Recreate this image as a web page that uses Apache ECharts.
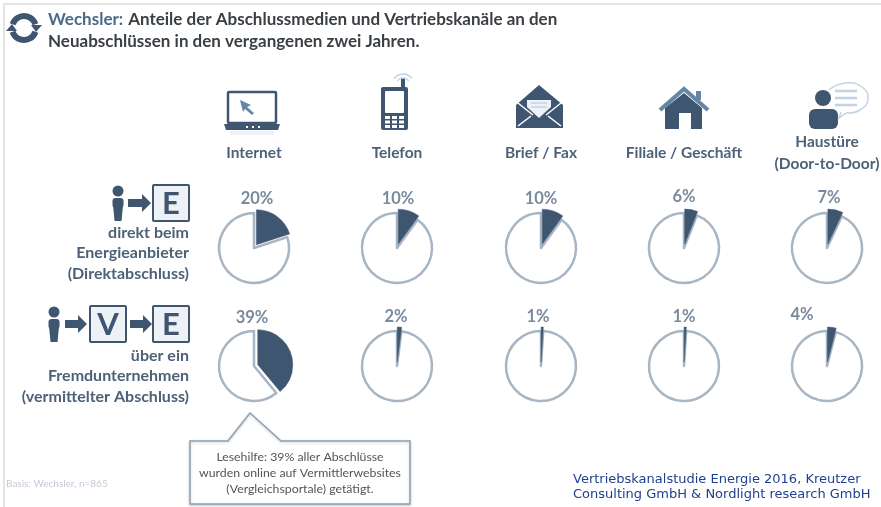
<!DOCTYPE html>
<html>
<head>
<meta charset="utf-8">
<style>
html,body{margin:0;padding:0;background:#fff}
#main{width:881px;height:507px}
</style>
<script src="https://cdn.jsdelivr.net/npm/echarts@6/dist/echarts.min.js"></script>
</head>
<body>
<div id="main"></div>
<script>
var channels = ['Internet', 'Telefon', 'Brief / Fax', 'Filiale / Geschäft', 'Haustüre\n(Door-to-Door)'];
var direktValues = [20, 10, 10, 6, 7];
var vermitteltValues = [39, 2, 1, 1, 4];
var direktLabel = 'direkt beim\nEnergieanbieter\n(Direktabschluss)';
var vermitteltLabel = 'über ein\nFremdunternehmen\n(vermittelter Abschluss)';
var lesehilfe = 'Lesehilfe: 39% aller Abschlüsse\nwurden online auf Vermittlerwebsites\n(Vergleichsportale) getätigt.';
var basis = 'Basis: Wechsler, n=865';
var quelle = 'Vertriebskanalstudie Energie 2016, Kreutzer\nConsulting GmbH & Nordlight research GmbH';

var dark = '#3f5670', mid = '#6686a8', ring = '#a8b5c3', pale = '#c3d3e6', textCol = '#4d6278';
var colX = [254, 397, 541, 684, 827];
var font = 'Lato, "Noto Sans", sans-serif';
// where the percent labels sit, they are not lined up in the original
var direktPctPos = [[257, 199], [398, 199], [541, 199], [684, 197], [829, 198]];
var vermitteltPctPos = [[252, 318], [396, 317], [538, 317], [684, 317], [802, 315]];

function pie(x, y, v) {
	return {
		type: 'pie',
		center: [x, y],
		radius: [0, 35],
		// rest slice comes first so the dark one is painted over the ring
		startAngle: 90 - v * 3.6 + 360,
		clockwise: true,
		animation: false,
		silent: true,
		selectedMode: 'single',
		selectedOffset: 4,
		labelLine: { show: false },
		label: { show: false },
		data: [
			{ value: 100 - v, itemStyle: { color: '#fff', borderColor: ring, borderWidth: 2.5 } },
			{ value: v, selected: true, itemStyle: { color: dark, borderColor: dark, borderWidth: 0.5 } }
		]
	};
}

function txt(x, y, text, size, fill, align, weight, lh) {
	return {
		type: 'text',
		silent: true,
		style: {
			x: x, y: y, text: text, fill: fill,
			font: (weight || 'normal') + ' ' + size + 'px ' + font,
			align: align || 'center',
			verticalAlign: 'middle',
			lineHeight: lh || size + 4
		}
	};
}
function rect(x, y, w, h, fill, r, stroke, lw) {
	return { type: 'rect', silent: true, shape: { x: x, y: y, width: w, height: h, r: r || 0 }, style: { fill: fill, stroke: stroke, lineWidth: lw || 0 } };
}
function circle(x, y, r, fill) {
	return { type: 'circle', silent: true, shape: { cx: x, cy: y, r: r }, style: { fill: fill } };
}
function poly(points, fill) {
	return { type: 'polygon', silent: true, shape: { points: points }, style: { fill: fill } };
}
function line(points, stroke, lw, smooth) {
	return { type: 'polyline', silent: true, shape: { points: points, smooth: smooth || 0 }, style: { stroke: stroke, lineWidth: lw, fill: 'none' } };
}
function arc(x, y, r, a, b, stroke, lw) {
	return { type: 'arc', silent: true, shape: { cx: x, cy: y, r: r, startAngle: a, endAngle: b, clockwise: true }, style: { stroke: stroke, lineWidth: lw, fill: 'none' } };
}
function person(x, y) {
	return [
		circle(x, y, 5.5, dark),
		rect(x - 5.5, y + 7, 11, 10, dark, 3),
		poly([[x - 5, y + 14], [x + 5, y + 14], [x + 3.5, y + 30], [x - 3.5, y + 30]], dark)
	];
}
function arrow(x0, x1, y) {
	return [poly([[x0, y - 4], [x1 - 9, y - 4], [x1 - 9, y - 9], [x1, y], [x1 - 9, y + 9], [x1 - 9, y + 4], [x0, y + 4]], dark)];
}
function box(x, y, letter) {
	return [
		rect(x, y, 36, 36, '#eef1f5', 1, dark, 2),
		txt(x + 18, y + 19, letter, 31, dark, 'center', 'bold')
	];
}

var deco = [];
// page edge
deco.push(line([[4, 510], [4, 4], [881, 4]], '#dcdcdc', 1.5));
// wechsel icon
deco.push(arc(24, 28, 12, Math.PI * 1.1, Math.PI * 1.9, dark, 6));
deco.push(arc(24, 28, 12, Math.PI * 0.1, Math.PI * 0.9, dark, 6));
deco.push(poly([[31, 25], [42, 25], [36, 32]], dark));
deco.push(poly([[6, 31], [17, 31], [12, 24]], dark));
// laptop
deco.push(rect(228, 92, 48, 31, '#fff', 1, dark, 2.5));
deco.push(poly([[224, 124], [280, 124], [278, 130], [226, 130]], dark));
deco.push(poly([[240, 100], [251, 105], [247, 107], [254, 113], [252, 115], [245, 109], [243, 112]], mid));
deco.push(rect(246, 126, 2, 2, '#fff'), rect(252, 126, 2, 2, '#fff'), rect(258, 126, 2, 2, '#fff'));
deco.push(rect(230, 131, 44, 4, '#eef1f5'));
// phone
deco.push(rect(381, 87, 27, 43, dark, 2));
deco.push(rect(401, 78, 4, 10, dark));
deco.push(rect(385, 91, 19, 22, '#fff', 1));
for (var r = 0; r < 3; r++) {
	for (var c = 0; c < 3; c++) {
		deco.push(rect(385 + c * 7, 116 + r * 4.5, 5, 3, '#fff'));
	}
}
deco.push(arc(403, 85, 7, -Math.PI * 0.8, -Math.PI * 0.2, pale, 1.5));
deco.push(arc(403, 85, 11, -Math.PI * 0.8, -Math.PI * 0.2, pale, 1.5));
// envelope
deco.push(poly([[516, 105], [539, 85], [563, 105], [563, 128], [516, 128]], dark));
deco.push(poly([[527, 100], [551, 100], [551, 107], [539, 118], [527, 107]], '#eef1f5'));
deco.push(line([[531, 103], [547, 103]], pale, 1.5), line([[531, 107], [547, 107]], pale, 1.5));
deco.push(line([[518, 103], [533, 115]], '#fff', 1.5), line([[561, 103], [546, 115]], '#fff', 1.5));
deco.push(line([[518, 126], [531, 116]], '#fff', 1.5), line([[561, 126], [548, 116]], '#fff', 1.5));
// house
deco.push(poly([[665, 108], [684, 93], [702, 108], [702, 129], [691, 129], [691, 113], [679, 113], [679, 129], [665, 129]], dark));
deco.push(line([[660, 110], [684, 89], [708, 110]], mid, 4));
deco.push(rect(696, 91, 5, 9, mid));
// speech
deco.push(circle(823, 98, 8, dark));
deco.push(rect(809, 109, 29, 20, dark, 6));
deco.push(line([[829, 90], [845, 83], [862, 87], [868, 99], [860, 110], [846, 113]], pale, 1.5, 0.5));
deco.push(line([[846, 113], [839, 118], [841, 112]], pale, 1.5));
deco.push(line([[835, 91], [857, 91]], pale, 2.5), line([[835, 98], [857, 98]], pale, 2.5), line([[835, 105], [857, 105]], pale, 2.5));
// row icons
deco = deco.concat(person(118, 191), arrow(128, 151, 203), box(153, 185, 'E'));
deco = deco.concat(person(54, 312), arrow(65, 87, 324), box(90, 306, 'V'), arrow(130, 152, 324), box(153, 306, 'E'));

// channel names
channels.forEach(function (name, i) {
	deco.push(txt(colX[i], 153, name, 15.5, textCol, 'center', 'bold', 22));
});
// row names
deco.push(txt(189, 253, direktLabel, 16, textCol, 'right', 'bold', 20.5));
deco.push(txt(189, 376, vermitteltLabel, 16, textCol, 'right', 'bold', 20.5));
// callout
deco.push({
	type: 'polygon', silent: true,
	shape: { points: [[190, 441], [228, 441], [250, 413], [281, 441], [410, 441], [410, 504], [190, 504]] },
	style: { fill: '#fff', stroke: '#8fa0b2', lineWidth: 1.5, shadowColor: 'rgba(0,0,0,0.2)', shadowBlur: 3, shadowOffsetY: 1 }
});
deco.push(txt(300, 473, lesehilfe, 12.3, '#555', 'center', 'normal', 16));
deco.push(txt(6, 484, basis, 10, '#c3cad4', 'left'));
deco.push({
	type: 'text', silent: true,
	style: { x: 573, y: 487, text: quelle, fill: '#1f3f8f', font: '13px "DejaVu Sans", sans-serif', align: 'left', verticalAlign: 'middle', lineHeight: 15 }
});

var series = [];
colX.forEach(function (x, i) {
	series.push(pie(x, 248, direktValues[i]));
	series.push(pie(x, 366, vermitteltValues[i]));
	deco.push(txt(direktPctPos[i][0], direktPctPos[i][1], direktValues[i] + '%', 16.5, '#7a8a9c', 'center', 'bold'));
	deco.push(txt(vermitteltPctPos[i][0], vermitteltPctPos[i][1], vermitteltValues[i] + '%', 16.5, '#7a8a9c', 'center', 'bold'));
});

var chart = echarts.init(document.getElementById('main'));
chart.setOption({
	animation: false,
	backgroundColor: '#fff',
	title: {
		left: 43,
		top: 4,
		text: '{a|Wechsler:} {b|Anteile der Abschlussmedien und Vertriebskanäle an den}\n{b|Neuabschlüssen in den vergangenen zwei Jahren.}',
		textStyle: {
			rich: {
				a: { fontFamily: font, fontSize: 17, fontWeight: 'bold', color: '#4a6a8a', lineHeight: 22 },
				b: { fontFamily: font, fontSize: 17, fontWeight: 'bold', color: '#3a3f44', lineHeight: 22 }
			}
		}
	},
	series: series,
	graphic: { elements: deco }
});
</script>
</body>
</html>
